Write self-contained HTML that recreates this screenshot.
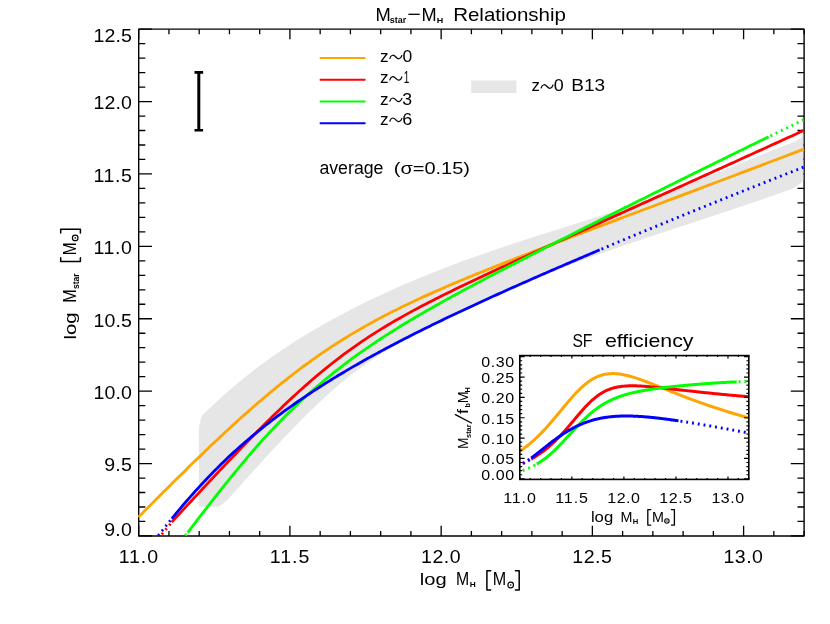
<!DOCTYPE html><html><head><meta charset="utf-8"><title>Mstar-MH Relationship</title>
<style>html,body{margin:0;padding:0;background:#fff;}svg{display:block;opacity:0.999;will-change:transform;}text{font-family:"Liberation Sans",sans-serif;fill:#000;}</style></head><body>
<svg width="830" height="624" viewBox="0 0 830 624">
<rect width="830" height="624" fill="#fff"/>
<defs><clipPath id="c1"><rect x="137.7" y="29.1" width="667.2" height="507.1"/></clipPath>
<clipPath id="c2"><rect x="519.8" y="355.6" width="229.0" height="123.8"/></clipPath></defs>
<g stroke="#000" stroke-width="1.4" fill="none">
<rect x="138.70" y="29.15" width="665.40" height="506.80" stroke-linejoin="round"/>
<path d="M138.70 535.95v-10.1 M138.70 29.15v10.1 M168.94 535.95v-5.0 M168.94 29.15v5.0 M199.19 535.95v-5.0 M199.19 29.15v5.0 M229.44 535.95v-5.0 M229.44 29.15v5.0 M259.68 535.95v-5.0 M259.68 29.15v5.0 M289.92 535.95v-10.1 M289.92 29.15v10.1 M320.17 535.95v-5.0 M320.17 29.15v5.0 M350.41 535.95v-5.0 M350.41 29.15v5.0 M380.66 535.95v-5.0 M380.66 29.15v5.0 M410.91 535.95v-5.0 M410.91 29.15v5.0 M441.15 535.95v-10.1 M441.15 29.15v10.1 M471.39 535.95v-5.0 M471.39 29.15v5.0 M501.64 535.95v-5.0 M501.64 29.15v5.0 M531.89 535.95v-5.0 M531.89 29.15v5.0 M562.13 535.95v-5.0 M562.13 29.15v5.0 M592.38 535.95v-10.1 M592.38 29.15v10.1 M622.62 535.95v-5.0 M622.62 29.15v5.0 M652.86 535.95v-5.0 M652.86 29.15v5.0 M683.11 535.95v-5.0 M683.11 29.15v5.0 M713.36 535.95v-5.0 M713.36 29.15v5.0 M743.60 535.95v-10.1 M743.60 29.15v10.1 M773.84 535.95v-5.0 M773.84 29.15v5.0 M804.09 535.95v-5.0 M804.09 29.15v5.0 M138.70 535.95h13.3 M804.10 535.95h-13.3 M138.70 521.47h6.6 M804.10 521.47h-6.6 M138.70 506.99h6.6 M804.10 506.99h-6.6 M138.70 492.51h6.6 M804.10 492.51h-6.6 M138.70 478.03h6.6 M804.10 478.03h-6.6 M138.70 463.55h13.3 M804.10 463.55h-13.3 M138.70 449.07h6.6 M804.10 449.07h-6.6 M138.70 434.59h6.6 M804.10 434.59h-6.6 M138.70 420.11h6.6 M804.10 420.11h-6.6 M138.70 405.63h6.6 M804.10 405.63h-6.6 M138.70 391.15h13.3 M804.10 391.15h-13.3 M138.70 376.67h6.6 M804.10 376.67h-6.6 M138.70 362.19h6.6 M804.10 362.19h-6.6 M138.70 347.71h6.6 M804.10 347.71h-6.6 M138.70 333.23h6.6 M804.10 333.23h-6.6 M138.70 318.75h13.3 M804.10 318.75h-13.3 M138.70 304.27h6.6 M804.10 304.27h-6.6 M138.70 289.79h6.6 M804.10 289.79h-6.6 M138.70 275.31h6.6 M804.10 275.31h-6.6 M138.70 260.83h6.6 M804.10 260.83h-6.6 M138.70 246.35h13.3 M804.10 246.35h-13.3 M138.70 231.87h6.6 M804.10 231.87h-6.6 M138.70 217.39h6.6 M804.10 217.39h-6.6 M138.70 202.91h6.6 M804.10 202.91h-6.6 M138.70 188.43h6.6 M804.10 188.43h-6.6 M138.70 173.95h13.3 M804.10 173.95h-13.3 M138.70 159.47h6.6 M804.10 159.47h-6.6 M138.70 144.99h6.6 M804.10 144.99h-6.6 M138.70 130.51h6.6 M804.10 130.51h-6.6 M138.70 116.03h6.6 M804.10 116.03h-6.6 M138.70 101.55h13.3 M804.10 101.55h-13.3 M138.70 87.07h6.6 M804.10 87.07h-6.6 M138.70 72.59h6.6 M804.10 72.59h-6.6 M138.70 58.11h6.6 M804.10 58.11h-6.6 M138.70 43.63h6.6 M804.10 43.63h-6.6 M138.70 29.15h13.3 M804.10 29.15h-13.3" stroke-width="1.3"/>
</g>
<polygon points="198.9,506.8 198.9,430.0 199.6,423.5 201.2,417.5 203.2,414.2 205.0,412.7 210.0,407.9 215.0,403.2 220.0,398.6 225.0,394.1 230.0,389.7 235.0,385.4 240.0,381.3 245.0,377.2 250.0,373.2 255.0,369.3 260.0,365.6 265.0,361.9 270.0,358.3 275.0,354.8 280.0,351.3 285.0,348.0 290.0,344.7 295.0,341.5 300.0,338.3 305.0,335.3 310.0,332.3 315.0,329.3 320.0,326.4 325.0,323.6 330.0,320.8 335.0,318.1 340.0,315.4 345.0,312.7 350.0,310.1 355.0,307.6 360.0,305.1 365.0,302.6 370.0,300.1 375.0,297.7 380.0,295.4 385.0,293.1 390.0,290.8 395.0,288.5 400.0,286.3 405.0,284.1 410.0,282.0 415.0,279.9 420.0,277.8 425.0,275.7 430.0,273.7 435.0,271.7 440.0,269.7 445.0,267.8 450.0,265.9 455.0,264.0 460.0,262.1 465.0,260.3 470.0,258.5 475.0,256.7 480.0,254.9 485.0,253.2 490.0,251.4 495.0,249.7 500.0,248.0 505.0,246.4 510.0,244.7 515.0,243.1 520.0,241.4 525.0,239.8 530.0,238.2 535.0,236.6 540.0,235.0 545.0,233.4 550.0,231.8 555.0,230.2 560.0,228.7 565.0,227.1 570.0,225.5 575.0,223.9 580.0,222.3 585.0,220.8 590.0,219.2 595.0,217.6 600.0,215.9 605.0,214.3 610.0,212.7 615.0,211.0 620.0,209.4 625.0,207.7 630.0,206.0 635.0,204.3 640.0,202.5 645.0,200.8 650.0,199.0 655.0,197.2 660.0,195.3 665.0,193.5 670.0,191.6 675.0,189.7 680.0,187.7 685.0,185.8 690.0,183.8 695.0,181.8 700.0,179.8 705.0,177.8 710.0,175.8 715.0,173.8 720.0,171.7 725.0,169.7 730.0,167.6 735.0,165.6 740.0,163.5 745.0,161.5 750.0,159.4 755.0,157.4 760.0,155.3 765.0,153.3 770.0,151.3 775.0,149.3 780.0,147.3 785.0,145.4 790.0,143.4 795.0,141.5 800.5,138.0 803.3,133.5 803.3,180.3 800.8,183.2 792.5,188.7 787.5,190.5 782.5,192.3 777.5,194.1 772.5,195.8 767.5,197.6 762.5,199.3 757.5,201.0 752.5,202.7 747.5,204.4 742.5,206.1 737.5,207.8 732.5,209.5 727.5,211.2 722.5,212.8 717.5,214.5 712.5,216.1 707.5,217.8 702.5,219.4 697.5,221.1 692.5,222.7 687.5,224.3 682.5,226.0 677.5,227.6 672.5,229.3 667.5,230.9 662.5,232.6 657.5,234.2 652.5,235.9 647.5,237.6 642.5,239.2 637.5,240.9 632.5,242.6 627.5,244.3 622.5,246.0 617.5,247.8 612.5,249.5 607.5,251.2 602.5,253.0 597.5,254.8 592.5,256.6 587.5,258.4 582.5,260.2 577.5,262.1 572.5,264.0 567.5,265.8 562.5,267.8 557.5,269.7 552.5,271.6 547.5,273.6 542.5,275.6 537.5,277.6 532.5,279.7 527.5,281.8 522.5,283.9 517.5,286.0 512.5,288.2 507.5,290.3 502.5,292.5 497.5,294.8 492.5,297.0 487.5,299.3 482.5,301.6 477.5,303.9 472.5,306.3 467.5,308.7 462.5,311.1 457.5,313.5 452.5,315.9 447.5,318.4 442.5,320.9 437.5,323.4 432.5,325.9 427.5,328.5 422.5,331.0 417.5,333.6 412.5,336.3 407.5,338.9 402.5,341.6 397.5,344.3 392.5,347.2 387.5,350.1 382.5,353.1 377.5,356.2 372.5,359.5 367.5,362.8 362.5,366.4 357.5,370.0 352.5,373.8 347.5,377.7 342.5,381.8 337.5,386.0 332.5,390.4 327.5,394.8 322.5,399.4 317.5,404.1 312.5,408.9 307.5,413.8 302.5,418.8 297.5,423.8 292.5,429.0 287.5,434.2 282.5,439.4 277.5,444.8 272.5,450.1 267.5,455.6 262.5,461.0 257.5,466.5 252.5,472.0 247.5,477.6 242.5,483.1 237.5,488.7 232.5,494.2 227.5,499.8 223.0,503.8 218.2,506.8" fill="#e6e6e6"/>
<g clip-path="url(#c1)" fill="none" stroke-width="2.8">
<path d="M138.50 517.13 L141.84 513.74 L145.19 510.36 L148.53 506.99 L151.88 503.62 L155.22 500.26 L158.57 496.91 L161.91 493.56 L165.25 490.23 L168.60 486.90 L171.94 483.58 L175.29 480.27 L178.63 476.97 L181.97 473.67 L185.32 470.39 L188.66 467.12 L192.01 463.87 L195.35 460.62 L198.70 457.39 L202.04 454.17 L205.38 450.96 L208.73 447.77 L212.07 444.60 L215.42 441.44 L218.76 438.30 L222.11 435.17 L225.45 432.06 L228.79 428.97 L232.14 425.90 L235.48 422.85 L238.83 419.83 L242.17 416.82 L245.52 413.84 L248.86 410.88 L252.20 407.94 L255.55 405.03 L258.89 402.14 L262.24 399.28 L265.58 396.45 L268.92 393.64 L272.27 390.86 L275.61 388.11 L278.96 385.39 L282.30 382.70 L285.65 380.04 L288.99 377.41 L292.33 374.82 L295.68 372.25 L299.02 369.72 L302.37 367.22 L305.71 364.75 L309.06 362.32 L312.40 359.92 L315.74 357.55 L319.09 355.21 L322.43 352.91 L325.78 350.64 L329.12 348.41 L332.46 346.20 L335.81 344.03 L339.15 341.89 L342.50 339.79 L345.84 337.71 L349.19 335.66 L352.53 333.65 L355.87 331.66 L359.22 329.71 L362.56 327.78 L365.91 325.88 L369.25 324.01 L372.60 322.16 L375.94 320.34 L379.28 318.54 L382.63 316.77 L385.97 315.03 L389.32 313.30 L392.66 311.60 L396.01 309.92 L399.35 308.26 L402.69 306.61 L406.04 304.99 L409.38 303.39 L412.73 301.80 L416.07 300.23 L419.41 298.68 L422.76 297.14 L426.10 295.62 L429.45 294.11 L432.79 292.61 L436.14 291.13 L439.48 289.66 L442.82 288.20 L446.17 286.75 L449.51 285.32 L452.86 283.89 L456.20 282.47 L459.55 281.07 L462.89 279.67 L466.23 278.28 L469.58 276.89 L472.92 275.52 L476.27 274.15 L479.61 272.79 L482.95 271.43 L486.30 270.08 L489.64 268.74 L492.99 267.40 L496.33 266.07 L499.68 264.74 L503.02 263.41 L506.36 262.09 L509.71 260.78 L513.05 259.46 L516.40 258.16 L519.74 256.85 L523.09 255.55 L526.43 254.25 L529.77 252.95 L533.12 251.66 L536.46 250.37 L539.81 249.08 L543.15 247.79 L546.49 246.51 L549.84 245.23 L553.18 243.94 L556.53 242.67 L559.87 241.39 L563.22 240.11 L566.56 238.84 L569.90 237.56 L573.25 236.29 L576.59 235.02 L579.94 233.75 L583.28 232.48 L586.63 231.21 L589.97 229.95 L593.31 228.68 L596.66 227.42 L600.00 226.15 L603.35 224.89 L606.69 223.62 L610.04 222.36 L613.38 221.10 L616.72 219.83 L620.07 218.57 L623.41 217.31 L626.76 216.05 L630.10 214.79 L633.44 213.53 L636.79 212.27 L640.13 211.01 L643.48 209.75 L646.82 208.49 L650.17 207.23 L653.51 205.97 L656.85 204.71 L660.20 203.45 L663.54 202.19 L666.89 200.93 L670.23 199.67 L673.58 198.41 L676.92 197.15 L680.26 195.89 L683.61 194.63 L686.95 193.37 L690.30 192.11 L693.64 190.85 L696.98 189.59 L700.33 188.32 L703.67 187.06 L707.02 185.80 L710.36 184.54 L713.71 183.28 L717.05 182.02 L720.39 180.75 L723.74 179.49 L727.08 178.23 L730.43 176.97 L733.77 175.70 L737.12 174.44 L740.46 173.18 L743.80 171.91 L747.15 170.65 L750.49 169.38 L753.84 168.12 L757.18 166.85 L760.53 165.59 L763.87 164.32 L767.21 163.05 L770.56 161.79 L773.90 160.52 L777.25 159.25 L780.59 157.98 L783.93 156.72 L787.28 155.45 L790.62 154.18 L793.97 152.91 L797.31 151.64 L800.66 150.37 L804.00 149.10" stroke="#ffa500"/>
<path d="M171.77 522.11 L174.95 518.66 L178.13 515.21 L181.31 511.77 L184.48 508.33 L187.66 504.89 L190.84 501.46 L194.01 498.04 L197.19 494.62 L200.37 491.20 L203.55 487.80 L206.72 484.40 L209.90 481.00 L213.08 477.62 L216.25 474.24 L219.43 470.87 L222.61 467.51 L225.78 464.16 L228.96 460.82 L232.14 457.49 L235.32 454.17 L238.49 450.86 L241.67 447.57 L244.85 444.29 L248.02 441.02 L251.20 437.78 L254.38 434.54 L257.55 431.33 L260.73 428.13 L263.91 424.95 L267.09 421.80 L270.26 418.66 L273.44 415.54 L276.62 412.45 L279.79 409.39 L282.97 406.35 L286.15 403.33 L289.32 400.35 L292.50 397.39 L295.68 394.46 L298.86 391.57 L302.03 388.70 L305.21 385.87 L308.39 383.08 L311.56 380.31 L314.74 377.59 L317.92 374.89 L321.09 372.24 L324.27 369.62 L327.45 367.04 L330.63 364.50 L333.80 362.00 L336.98 359.53 L340.16 357.11 L343.33 354.72 L346.51 352.37 L349.69 350.06 L352.86 347.78 L356.04 345.54 L359.22 343.34 L362.40 341.18 L365.57 339.05 L368.75 336.95 L371.93 334.89 L375.10 332.86 L378.28 330.86 L381.46 328.89 L384.63 326.95 L387.81 325.04 L390.99 323.16 L394.17 321.30 L397.34 319.47 L400.52 317.66 L403.70 315.87 L406.87 314.11 L410.05 312.37 L413.23 310.64 L416.40 308.94 L419.58 307.25 L422.76 305.58 L425.94 303.92 L429.11 302.28 L432.29 300.66 L435.47 299.05 L438.64 297.45 L441.82 295.86 L445.00 294.28 L448.17 292.71 L451.35 291.15 L454.53 289.61 L457.71 288.07 L460.88 286.53 L464.06 285.01 L467.24 283.49 L470.41 281.98 L473.59 280.47 L476.77 278.97 L479.94 277.48 L483.12 275.99 L486.30 274.50 L489.48 273.02 L492.65 271.55 L495.83 270.07 L499.01 268.60 L502.18 267.14 L505.36 265.67 L508.54 264.21 L511.72 262.75 L514.89 261.30 L518.07 259.84 L521.25 258.39 L524.42 256.94 L527.60 255.49 L530.78 254.05 L533.95 252.60 L537.13 251.16 L540.31 249.72 L543.49 248.27 L546.66 246.83 L549.84 245.39 L553.02 243.95 L556.19 242.52 L559.37 241.08 L562.55 239.64 L565.72 238.21 L568.90 236.77 L572.08 235.34 L575.26 233.90 L578.43 232.47 L581.61 231.04 L584.79 229.60 L587.96 228.17 L591.14 226.74 L594.32 225.30 L597.49 223.87 L600.67 222.44 L603.85 221.01 L607.03 219.57 L610.20 218.14 L613.38 216.71 L616.56 215.28 L619.73 213.85 L622.91 212.41 L626.09 210.98 L629.26 209.55 L632.44 208.12 L635.62 206.68 L638.80 205.25 L641.97 203.82 L645.15 202.39 L648.33 200.95 L651.50 199.52 L654.68 198.09 L657.86 196.65 L661.03 195.22 L664.21 193.78 L667.39 192.35 L670.57 190.92 L673.74 189.48 L676.92 188.05 L680.10 186.61 L683.27 185.18 L686.45 183.74 L689.63 182.30 L692.80 180.87 L695.98 179.43 L699.16 177.99 L702.34 176.56 L705.51 175.12 L708.69 173.68 L711.87 172.24 L715.04 170.80 L718.22 169.36 L721.40 167.92 L724.57 166.48 L727.75 165.04 L730.93 163.60 L734.11 162.16 L737.28 160.72 L740.46 159.28 L743.64 157.84 L746.81 156.39 L749.99 154.95 L753.17 153.51 L756.34 152.06 L759.52 150.62 L762.70 149.17 L765.88 147.73 L769.05 146.28 L772.23 144.84 L775.41 143.39 L778.58 141.94 L781.76 140.50 L784.94 139.05 L788.11 137.60 L791.29 136.15 L794.47 134.70 L797.65 133.25 L800.82 131.80 L804.00 130.35" stroke="#ff0000"/>
<path d="M171.77 522.11L157.20 540.00" stroke="#ff0000" stroke-dasharray="1.9 3.94" stroke-dashoffset="-2.2"/>
<path d="M187.81 532.55 L190.73 528.67 L193.64 524.80 L196.56 520.96 L199.48 517.13 L202.40 513.33 L205.32 509.54 L208.24 505.78 L211.16 502.04 L214.07 498.32 L216.99 494.62 L219.91 490.95 L222.83 487.31 L225.75 483.69 L228.67 480.10 L231.59 476.49 L234.50 472.89 L237.42 469.33 L240.34 465.79 L243.26 462.29 L246.18 458.82 L249.10 455.38 L252.02 451.97 L254.94 448.60 L257.85 445.26 L260.77 441.97 L263.69 438.76 L266.61 435.58 L269.53 432.44 L272.45 429.34 L275.37 426.27 L278.28 423.24 L281.20 420.24 L284.12 417.28 L287.04 414.36 L289.96 411.48 L292.88 408.64 L295.80 405.83 L298.71 403.06 L301.63 400.32 L304.55 397.63 L307.47 394.97 L310.39 392.35 L313.31 389.76 L316.23 387.21 L319.14 384.70 L322.06 382.22 L324.98 379.77 L327.90 377.36 L330.82 374.98 L333.74 372.64 L336.66 370.32 L339.57 368.04 L342.49 365.79 L345.41 363.57 L348.33 361.37 L351.25 359.21 L354.17 357.07 L357.09 354.96 L360.00 352.88 L362.92 350.82 L365.84 348.79 L368.76 346.78 L371.68 344.80 L374.60 342.83 L377.52 340.89 L380.43 338.97 L383.35 337.07 L386.27 335.19 L389.19 333.33 L392.11 331.48 L395.03 329.65 L397.95 327.84 L400.86 326.05 L403.78 324.27 L406.70 322.51 L409.62 320.75 L412.54 319.02 L415.46 317.29 L418.38 315.58 L421.29 313.88 L424.21 312.19 L427.13 310.52 L430.05 308.85 L432.97 307.19 L435.89 305.54 L438.81 303.91 L441.73 302.28 L444.64 300.65 L447.56 299.04 L450.48 297.43 L453.40 295.83 L456.32 294.24 L459.24 292.66 L462.16 291.08 L465.07 289.50 L467.99 287.94 L470.91 286.37 L473.83 284.82 L476.75 283.26 L479.67 281.71 L482.59 280.17 L485.50 278.63 L488.42 277.10 L491.34 275.56 L494.26 274.04 L497.18 272.51 L500.10 270.99 L503.02 269.47 L505.93 267.96 L508.85 266.45 L511.77 264.94 L514.69 263.43 L517.61 261.93 L520.53 260.43 L523.45 258.93 L526.36 257.43 L529.28 255.93 L532.20 254.44 L535.12 252.95 L538.04 251.46 L540.96 249.97 L543.88 248.49 L546.79 247.00 L549.71 245.52 L552.63 244.04 L555.55 242.56 L558.47 241.08 L561.39 239.60 L564.31 238.13 L567.22 236.65 L570.14 235.18 L573.06 233.71 L575.98 232.23 L578.90 230.76 L581.82 229.29 L584.74 227.83 L587.65 226.36 L590.57 224.89 L593.49 223.43 L596.41 221.96 L599.33 220.50 L602.25 219.04 L605.17 217.57 L608.08 216.11 L611.00 214.65 L613.92 213.19 L616.84 211.73 L619.76 210.28 L622.68 208.82 L625.60 207.36 L628.52 205.91 L631.43 204.45 L634.35 203.00 L637.27 201.54 L640.19 200.09 L643.11 198.64 L646.03 197.18 L648.95 195.73 L651.86 194.28 L654.78 192.83 L657.70 191.38 L660.62 189.93 L663.54 188.49 L666.46 187.04 L669.38 185.59 L672.29 184.15 L675.21 182.70 L678.13 181.26 L681.05 179.81 L683.97 178.37 L686.89 176.93 L689.81 175.48 L692.72 174.04 L695.64 172.60 L698.56 171.16 L701.48 169.72 L704.40 168.28 L707.32 166.84 L710.24 165.41 L713.15 163.97 L716.07 162.53 L718.99 161.10 L721.91 159.66 L724.83 158.23 L727.75 156.80 L730.67 155.36 L733.58 153.93 L736.50 152.50 L739.42 151.07 L742.34 149.64 L745.26 148.21 L748.18 146.78 L751.10 145.35 L754.01 143.93 L756.93 142.50 L759.85 141.08 L762.77 139.65 L765.69 138.23 L768.61 136.80" stroke="#00ff00"/>
<path d="M187.81 532.55L181.50 540.00" stroke="#00ff00" stroke-dasharray="1.9 3.94" stroke-dashoffset="-2.2"/>
<path d="M768.61 136.80 L769.21 136.51 L769.81 136.22 L770.41 135.93 L771.01 135.63 L771.61 135.34 L772.21 135.05 L772.81 134.76 L773.41 134.47 L774.01 134.17 L774.61 133.88 L775.21 133.59 L775.81 133.30 L776.41 133.00 L777.01 132.71 L777.61 132.42 L778.21 132.13 L778.81 131.84 L779.41 131.55 L780.01 131.25 L780.60 130.96 L781.20 130.67 L781.80 130.38 L782.40 130.09 L783.00 129.80 L783.60 129.50 L784.20 129.21 L784.80 128.92 L785.40 128.63 L786.00 128.34 L786.60 128.05 L787.20 127.75 L787.80 127.46 L788.40 127.17 L789.00 126.88 L789.60 126.59 L790.20 126.30 L790.80 126.01 L791.40 125.72 L792.00 125.42 L792.60 125.13 L793.20 124.84 L793.80 124.55 L794.40 124.26 L795.00 123.97 L795.60 123.68 L796.20 123.39 L796.80 123.10 L797.40 122.81 L798.00 122.52 L798.60 122.22 L799.20 121.93 L799.80 121.64 L800.40 121.34 L801.00 121.05 L801.60 120.75 L802.20 120.45 L802.80 120.15 L803.40 119.86 L804.00 119.56" stroke="#00ff00" stroke-dasharray="1.9 3.94" stroke-dashoffset="-2"/>
<path d="M171.77 518.72 L173.93 516.08 L176.08 513.46 L178.23 510.87 L180.38 508.31 L182.53 505.77 L184.68 503.25 L186.83 500.77 L188.98 498.30 L191.13 495.86 L193.28 493.45 L195.43 491.05 L197.58 488.69 L199.73 486.34 L201.88 484.02 L204.03 481.72 L206.18 479.44 L208.33 477.19 L210.48 474.95 L212.63 472.74 L214.78 470.55 L216.93 468.39 L219.08 466.24 L221.23 464.11 L223.38 462.01 L225.53 459.93 L227.68 457.86 L229.83 455.83 L231.98 453.86 L234.13 451.90 L236.28 449.97 L238.43 448.05 L240.58 446.15 L242.73 444.27 L244.88 442.41 L247.03 440.56 L249.18 438.74 L251.33 436.93 L253.48 435.14 L255.63 433.36 L257.78 431.60 L259.93 429.86 L262.08 428.13 L264.23 426.42 L266.38 424.73 L268.53 423.05 L270.68 421.38 L272.83 419.73 L274.98 418.10 L277.13 416.48 L279.28 414.87 L281.43 413.28 L283.58 411.70 L285.73 410.14 L287.88 408.58 L290.04 407.04 L292.19 405.52 L294.34 404.00 L296.49 402.50 L298.64 401.01 L300.79 399.53 L302.94 398.07 L305.09 396.61 L307.24 395.17 L309.39 393.74 L311.54 392.32 L313.69 390.91 L315.84 389.51 L317.99 388.12 L320.14 386.74 L322.29 385.37 L324.44 384.01 L326.59 382.66 L328.74 381.32 L330.89 379.98 L333.04 378.66 L335.19 377.35 L337.34 376.04 L339.49 374.75 L341.64 373.46 L343.79 372.18 L345.94 370.90 L348.09 369.64 L350.24 368.38 L352.39 367.13 L354.54 365.89 L356.69 364.66 L358.84 363.43 L360.99 362.21 L363.14 361.00 L365.29 359.79 L367.44 358.59 L369.59 357.40 L371.74 356.21 L373.89 355.03 L376.04 353.86 L378.19 352.69 L380.34 351.52 L382.49 350.37 L384.64 349.21 L386.79 348.07 L388.94 346.93 L391.09 345.79 L393.24 344.66 L395.39 343.54 L397.54 342.42 L399.69 341.30 L401.84 340.19 L403.99 339.08 L406.14 337.98 L408.30 336.89 L410.45 335.79 L412.60 334.71 L414.75 333.62 L416.90 332.54 L419.05 331.47 L421.20 330.39 L423.35 329.33 L425.50 328.26 L427.65 327.20 L429.80 326.14 L431.95 325.09 L434.10 324.04 L436.25 323.00 L438.40 321.95 L440.55 320.91 L442.70 319.88 L444.85 318.84 L447.00 317.81 L449.15 316.79 L451.30 315.76 L453.45 314.74 L455.60 313.72 L457.75 312.71 L459.90 311.70 L462.05 310.68 L464.20 309.68 L466.35 308.67 L468.50 307.67 L470.65 306.67 L472.80 305.67 L474.95 304.68 L477.10 303.69 L479.25 302.70 L481.40 301.71 L483.55 300.72 L485.70 299.74 L487.85 298.76 L490.00 297.78 L492.15 296.80 L494.30 295.82 L496.45 294.85 L498.60 293.88 L500.75 292.91 L502.90 291.94 L505.05 290.98 L507.20 290.01 L509.35 289.05 L511.50 288.09 L513.65 287.13 L515.80 286.17 L517.95 285.22 L520.10 284.26 L522.25 283.31 L524.40 282.36 L526.56 281.41 L528.71 280.46 L530.86 279.52 L533.01 278.57 L535.16 277.63 L537.31 276.68 L539.46 275.74 L541.61 274.80 L543.76 273.87 L545.91 272.93 L548.06 271.99 L550.21 271.06 L552.36 270.13 L554.51 269.20 L556.66 268.27 L558.81 267.34 L560.96 266.41 L563.11 265.48 L565.26 264.55 L567.41 263.63 L569.56 262.71 L571.71 261.78 L573.86 260.86 L576.01 259.94 L578.16 259.02 L580.31 258.10 L582.46 257.19 L584.61 256.27 L586.76 255.36 L588.91 254.44 L591.06 253.53 L593.21 252.62 L595.36 251.71 L597.51 250.79 L599.66 249.89" stroke="#0000ff"/>
<path d="M171.77 518.72L155.80 538.60" stroke="#0000ff" stroke-dasharray="1.9 3.94" stroke-dashoffset="-2.2"/>
<path d="M599.66 249.89 L603.12 248.42 L606.59 246.96 L610.05 245.50 L613.51 244.05 L616.98 242.59 L620.44 241.14 L623.90 239.69 L627.37 238.25 L630.83 236.80 L634.29 235.36 L637.76 233.92 L641.22 232.48 L644.69 231.04 L648.15 229.61 L651.61 228.17 L655.08 226.74 L658.54 225.31 L662.00 223.89 L665.47 222.46 L668.93 221.04 L672.39 219.62 L675.86 218.20 L679.32 216.78 L682.78 215.37 L686.25 213.95 L689.71 212.54 L693.17 211.13 L696.64 209.72 L700.10 208.32 L703.56 206.91 L707.03 205.51 L710.49 204.11 L713.95 202.71 L717.42 201.31 L720.88 199.92 L724.34 198.53 L727.81 197.14 L731.27 195.75 L734.73 194.36 L738.20 192.97 L741.66 191.59 L745.12 190.21 L748.59 188.83 L752.05 187.45 L755.51 186.07 L758.98 184.70 L762.44 183.32 L765.90 181.95 L769.37 180.58 L772.83 179.22 L776.29 177.85 L779.76 176.49 L783.22 175.13 L786.68 173.77 L790.15 172.41 L793.61 171.06 L797.07 169.70 L800.54 168.35 L804.00 166.97" stroke="#0000ff" stroke-dasharray="1.9 3.94" stroke-dashoffset="-2"/>
</g>
<path d="M198.8 72.4V130.2" stroke="#000" stroke-width="3" fill="none"/>
<path d="M194.5 72.4h8.6M194.5 130.2h8.6" stroke="#000" stroke-width="2.6" fill="none"/>
<path d="M319.7 58.0H365.5" stroke="#ffa500" stroke-width="2" fill="none"/>
<path d="M319.7 79.8H365.5" stroke="#ff0000" stroke-width="2" fill="none"/>
<path d="M319.7 101.5H365.5" stroke="#00ff00" stroke-width="2" fill="none"/>
<path d="M319.7 123.2H365.5" stroke="#0000ff" stroke-width="2" fill="none"/>
<rect x="471.2" y="80.5" width="45.3" height="12.5" fill="#e6e6e6"/>
<text transform="translate(93.43 109.45) scale(1.030 1)" font-size="19.0" letter-spacing="0.13">12.0</text>
<text transform="translate(93.43 181.85) scale(1.030 1)" font-size="19.0" letter-spacing="0.60">11.5</text>
<text transform="translate(93.43 254.25) scale(1.030 1)" font-size="19.0" letter-spacing="0.60">11.0</text>
<text transform="translate(93.43 326.65) scale(1.030 1)" font-size="19.0" letter-spacing="0.13">10.5</text>
<text transform="translate(93.43 399.05) scale(1.030 1)" font-size="19.0" letter-spacing="0.13">10.0</text>
<text transform="translate(104.22 471.45) scale(1.030 1)" font-size="19.0" letter-spacing="0.22">9.5</text>
<text transform="translate(93.43 42.00) scale(1.030 1)" font-size="19.0" letter-spacing="0.13">12.5</text>
<text transform="translate(104.22 536.40) scale(1.030 1)" font-size="19.0" letter-spacing="0.22">9.0</text>
<text transform="translate(118.63 562.60) scale(1.030 1)" font-size="19.0" letter-spacing="0.92">11.0</text>
<text transform="translate(269.86 562.60) scale(1.030 1)" font-size="19.0" letter-spacing="0.92">11.5</text>
<text transform="translate(421.08 562.60) scale(1.030 1)" font-size="19.0" letter-spacing="0.45">12.0</text>
<text transform="translate(572.31 562.60) scale(1.030 1)" font-size="19.0" letter-spacing="0.45">12.5</text>
<text transform="translate(723.53 562.60) scale(1.030 1)" font-size="19.0" letter-spacing="0.45">13.0</text>
<text x="380.12" y="61.90" font-size="16.6" textLength="8.54" lengthAdjust="spacingAndGlyphs">z</text>
<path d="M389.80 58.44 C391.26 54.12 393.88 54.66 395.85 57.00 S400.44 59.88 401.90 55.56" fill="none" stroke="#000" stroke-width="1.2" stroke-linecap="round"/>
<text x="402.40" y="61.90" font-size="17.4" textLength="9.72" lengthAdjust="spacingAndGlyphs">0</text>
<text x="380.12" y="83.30" font-size="16.6" textLength="8.54" lengthAdjust="spacingAndGlyphs">z</text>
<path d="M389.80 79.84 C391.26 75.52 393.88 76.06 395.85 78.40 S400.44 81.28 401.90 76.96" fill="none" stroke="#000" stroke-width="1.2" stroke-linecap="round"/>
<text x="403.75" y="83.30" font-size="17.4" textLength="5.56" lengthAdjust="spacingAndGlyphs">1</text>
<text x="380.12" y="104.70" font-size="16.6" textLength="8.54" lengthAdjust="spacingAndGlyphs">z</text>
<path d="M389.80 101.24 C391.26 96.92 393.88 97.46 395.85 99.80 S400.44 102.68 401.90 98.36" fill="none" stroke="#000" stroke-width="1.2" stroke-linecap="round"/>
<text x="402.39" y="104.70" font-size="17.4" textLength="9.82" lengthAdjust="spacingAndGlyphs">3</text>
<text x="380.12" y="124.70" font-size="16.6" textLength="8.54" lengthAdjust="spacingAndGlyphs">z</text>
<path d="M389.80 121.24 C391.26 116.92 393.88 117.46 395.85 119.80 S400.44 122.68 401.90 118.36" fill="none" stroke="#000" stroke-width="1.2" stroke-linecap="round"/>
<text x="402.20" y="124.70" font-size="17.4" textLength="10.04" lengthAdjust="spacingAndGlyphs">6</text>
<text x="531.63" y="91.40" font-size="16.6" textLength="8.41" lengthAdjust="spacingAndGlyphs">z</text>
<path d="M541.10 87.94 C542.53 83.62 545.12 84.16 547.05 86.50 S551.57 89.38 553.00 85.06" fill="none" stroke="#000" stroke-width="1.2" stroke-linecap="round"/>
<text x="553.78" y="91.40" font-size="17.4" textLength="9.95" lengthAdjust="spacingAndGlyphs">0</text>
<text x="571.28" y="91.40" font-size="17.4" textLength="33.76" lengthAdjust="spacingAndGlyphs">B13</text>
<text x="319.40" y="174.20" font-size="17.5" textLength="64.08" lengthAdjust="spacingAndGlyphs">average</text>
<text x="393.80" y="174.20" font-size="17.0" textLength="76.17" lengthAdjust="spacingAndGlyphs">(σ=0.15)</text>
<text x="375.43" y="20.60" font-size="18.5" textLength="15.29" lengthAdjust="spacingAndGlyphs">M</text>
<text x="389.79" y="23.20" font-size="8.2" textLength="16.44" lengthAdjust="spacingAndGlyphs" font-weight="bold">star</text>
<path d="M408.4 14.3H419.7" stroke="#000" stroke-width="1.3"/>
<text x="421.54" y="20.60" font-size="18.5" textLength="15.17" lengthAdjust="spacingAndGlyphs">M</text>
<text x="436.72" y="22.60" font-size="8.0" textLength="6.49" lengthAdjust="spacingAndGlyphs" font-weight="bold">H</text>
<text x="453.16" y="20.60" font-size="18.5" textLength="112.83" lengthAdjust="spacingAndGlyphs">Relationship</text>
<text x="419.79" y="585.40" font-size="17.2" textLength="26.80" lengthAdjust="spacingAndGlyphs">log</text>
<text x="455.93" y="585.40" font-size="17.6" textLength="13.18" lengthAdjust="spacingAndGlyphs">M</text>
<text x="469.86" y="587.40" font-size="8.0" textLength="6.00" lengthAdjust="spacingAndGlyphs" font-weight="bold">H</text>
<path d="M490.70 570.70H486.90V590.10H490.70" fill="none" stroke="#000" stroke-width="1.50" stroke-linejoin="round" stroke-linecap="round"/>
<text x="492.71" y="585.40" font-size="17.6" textLength="13.43" lengthAdjust="spacingAndGlyphs">M</text>
<circle cx="510.7" cy="585.0" r="2.8" fill="none" stroke="#000" stroke-width="1.2"/><circle cx="510.7" cy="585.0" r="0.8" fill="#000"/>
<path d="M515.40 570.70H519.20V590.10H515.40" fill="none" stroke="#000" stroke-width="1.50" stroke-linejoin="round" stroke-linecap="round"/>
<text x="75.60" y="339.52" font-size="17.2" textLength="27.02" lengthAdjust="spacingAndGlyphs" transform="rotate(-90 75.60 339.52)">log</text>
<text x="75.60" y="302.80" font-size="17.6" textLength="13.55" lengthAdjust="spacingAndGlyphs" transform="rotate(-90 75.60 302.80)">M</text>
<text x="78.70" y="289.10" font-size="8.3" textLength="15.83" lengthAdjust="spacingAndGlyphs" transform="rotate(-90 78.70 289.10)" font-weight="bold">star</text>
<path d="M60.70 257.80V261.60H80.40V257.80" fill="none" stroke="#000" stroke-width="1.50" stroke-linejoin="round" stroke-linecap="round"/>
<text x="75.60" y="255.24" font-size="17.6" textLength="12.93" lengthAdjust="spacingAndGlyphs" transform="rotate(-90 75.60 255.24)">M</text>
<circle cx="75.2" cy="237.9" r="2.8" fill="none" stroke="#000" stroke-width="1.2"/><circle cx="75.2" cy="237.9" r="0.8" fill="#000"/>
<path d="M60.70 233.10V229.30H80.40V233.10" fill="none" stroke="#000" stroke-width="1.50" stroke-linejoin="round" stroke-linecap="round"/>
<g clip-path="url(#c2)" fill="none" stroke-width="3">
<path d="M519.80 451.29 L520.95 450.50 L522.10 449.69 L523.25 448.85 L524.40 448.00 L525.55 447.12 L526.70 446.22 L527.86 445.30 L529.01 444.36 L530.16 443.40 L531.31 442.42 L532.46 441.41 L533.61 440.38 L534.76 439.34 L535.91 438.26 L537.06 437.17 L538.21 436.06 L539.36 434.92 L540.51 433.76 L541.66 432.59 L542.82 431.39 L543.97 430.17 L545.12 428.94 L546.27 427.68 L547.42 426.41 L548.57 425.12 L549.72 423.81 L550.87 422.49 L552.02 421.16 L553.17 419.81 L554.32 418.45 L555.47 417.08 L556.62 415.71 L557.77 414.32 L558.93 412.94 L560.08 411.54 L561.23 410.15 L562.38 408.76 L563.53 407.36 L564.68 405.98 L565.83 404.60 L566.98 403.23 L568.13 401.86 L569.28 400.52 L570.43 399.18 L571.58 397.87 L572.73 396.57 L573.89 395.29 L575.04 394.04 L576.19 392.82 L577.34 391.62 L578.49 390.45 L579.64 389.31 L580.79 388.21 L581.94 387.14 L583.09 386.11 L584.24 385.11 L585.39 384.16 L586.54 383.24 L587.69 382.37 L588.85 381.53 L590.00 380.74 L591.15 379.99 L592.30 379.29 L593.45 378.63 L594.60 378.01 L595.75 377.43 L596.90 376.90 L598.05 376.41 L599.20 375.96 L600.35 375.55 L601.50 375.19 L602.65 374.86 L603.81 374.58 L604.96 374.33 L606.11 374.12 L607.26 373.95 L608.41 373.81 L609.56 373.70 L610.71 373.63 L611.86 373.59 L613.01 373.58 L614.16 373.60 L615.31 373.65 L616.46 373.73 L617.61 373.83 L618.76 373.96 L619.92 374.11 L621.07 374.28 L622.22 374.47 L623.37 374.68 L624.52 374.92 L625.67 375.17 L626.82 375.43 L627.97 375.71 L629.12 376.01 L630.27 376.32 L631.42 376.65 L632.57 376.99 L633.72 377.33 L634.88 377.69 L636.03 378.06 L637.18 378.44 L638.33 378.83 L639.48 379.23 L640.63 379.63 L641.78 380.04 L642.93 380.45 L644.08 380.88 L645.23 381.30 L646.38 381.73 L647.53 382.17 L648.68 382.61 L649.84 383.05 L650.99 383.50 L652.14 383.95 L653.29 384.40 L654.44 384.85 L655.59 385.31 L656.74 385.76 L657.89 386.22 L659.04 386.68 L660.19 387.14 L661.34 387.60 L662.49 388.06 L663.64 388.52 L664.79 388.98 L665.95 389.44 L667.10 389.90 L668.25 390.36 L669.40 390.82 L670.55 391.28 L671.70 391.73 L672.85 392.19 L674.00 392.65 L675.15 393.10 L676.30 393.55 L677.45 394.00 L678.60 394.45 L679.75 394.90 L680.91 395.35 L682.06 395.79 L683.21 396.23 L684.36 396.67 L685.51 397.11 L686.66 397.55 L687.81 397.99 L688.96 398.42 L690.11 398.85 L691.26 399.28 L692.41 399.71 L693.56 400.13 L694.71 400.55 L695.87 400.97 L697.02 401.39 L698.17 401.81 L699.32 402.22 L700.47 402.64 L701.62 403.05 L702.77 403.45 L703.92 403.86 L705.07 404.26 L706.22 404.66 L707.37 405.06 L708.52 405.46 L709.67 405.85 L710.83 406.24 L711.98 406.63 L713.13 407.02 L714.28 407.40 L715.43 407.79 L716.58 408.17 L717.73 408.54 L718.88 408.92 L720.03 409.29 L721.18 409.66 L722.33 410.03 L723.48 410.40 L724.63 410.76 L725.78 411.13 L726.94 411.49 L728.09 411.84 L729.24 412.20 L730.39 412.55 L731.54 412.90 L732.69 413.25 L733.84 413.60 L734.99 413.94 L736.14 414.28 L737.29 414.62 L738.44 414.96 L739.59 415.30 L740.74 415.63 L741.90 415.96 L743.05 416.29 L744.20 416.62 L745.35 416.94 L746.50 417.27 L747.65 417.59 L748.80 417.91" stroke="#ffa500"/>
<path d="M531.25 459.08 L532.34 458.46 L533.44 457.83 L534.53 457.17 L535.62 456.50 L536.72 455.81 L537.81 455.10 L538.90 454.37 L540.00 453.62 L541.09 452.85 L542.18 452.06 L543.28 451.24 L544.37 450.41 L545.46 449.55 L546.56 448.67 L547.65 447.77 L548.74 446.85 L549.83 445.90 L550.93 444.93 L552.02 443.94 L553.11 442.93 L554.21 441.89 L555.30 440.83 L556.39 439.75 L557.49 438.65 L558.58 437.53 L559.67 436.39 L560.77 435.23 L561.86 434.05 L562.95 432.85 L564.05 431.63 L565.14 430.40 L566.23 429.16 L567.33 427.90 L568.42 426.63 L569.51 425.35 L570.61 424.06 L571.70 422.77 L572.79 421.47 L573.89 420.17 L574.98 418.87 L576.07 417.57 L577.17 416.28 L578.26 414.99 L579.35 413.72 L580.44 412.45 L581.54 411.20 L582.63 409.97 L583.72 408.75 L584.82 407.56 L585.91 406.39 L587.00 405.25 L588.10 404.13 L589.19 403.04 L590.28 401.98 L591.38 400.96 L592.47 399.97 L593.56 399.02 L594.66 398.10 L595.75 397.22 L596.84 396.37 L597.94 395.57 L599.03 394.80 L600.12 394.07 L601.22 393.37 L602.31 392.72 L603.40 392.10 L604.50 391.52 L605.59 390.97 L606.68 390.46 L607.78 389.98 L608.87 389.53 L609.96 389.12 L611.05 388.74 L612.15 388.39 L613.24 388.06 L614.33 387.77 L615.43 387.50 L616.52 387.25 L617.61 387.03 L618.71 386.83 L619.80 386.65 L620.89 386.49 L621.99 386.35 L623.08 386.23 L624.17 386.13 L625.27 386.04 L626.36 385.97 L627.45 385.91 L628.55 385.87 L629.64 385.84 L630.73 385.82 L631.83 385.81 L632.92 385.81 L634.01 385.82 L635.11 385.84 L636.20 385.87 L637.29 385.90 L638.39 385.95 L639.48 386.00 L640.57 386.05 L641.66 386.12 L642.76 386.18 L643.85 386.25 L644.94 386.33 L646.04 386.41 L647.13 386.50 L648.22 386.59 L649.32 386.68 L650.41 386.77 L651.50 386.87 L652.60 386.97 L653.69 387.07 L654.78 387.18 L655.88 387.28 L656.97 387.39 L658.06 387.50 L659.16 387.62 L660.25 387.73 L661.34 387.84 L662.44 387.96 L663.53 388.08 L664.62 388.19 L665.72 388.31 L666.81 388.43 L667.90 388.55 L669.00 388.67 L670.09 388.79 L671.18 388.91 L672.27 389.04 L673.37 389.16 L674.46 389.28 L675.55 389.40 L676.65 389.52 L677.74 389.65 L678.83 389.77 L679.93 389.89 L681.02 390.01 L682.11 390.14 L683.21 390.26 L684.30 390.38 L685.39 390.50 L686.49 390.62 L687.58 390.74 L688.67 390.87 L689.77 390.99 L690.86 391.11 L691.95 391.23 L693.05 391.35 L694.14 391.47 L695.23 391.59 L696.33 391.70 L697.42 391.82 L698.51 391.94 L699.61 392.06 L700.70 392.17 L701.79 392.29 L702.88 392.41 L703.98 392.52 L705.07 392.64 L706.16 392.75 L707.26 392.86 L708.35 392.98 L709.44 393.09 L710.54 393.20 L711.63 393.31 L712.72 393.42 L713.82 393.54 L714.91 393.64 L716.00 393.75 L717.10 393.86 L718.19 393.97 L719.28 394.08 L720.38 394.18 L721.47 394.29 L722.56 394.40 L723.66 394.50 L724.75 394.61 L725.84 394.71 L726.94 394.81 L728.03 394.91 L729.12 395.02 L730.22 395.12 L731.31 395.22 L732.40 395.32 L733.49 395.41 L734.59 395.51 L735.68 395.61 L736.77 395.71 L737.87 395.80 L738.96 395.90 L740.05 395.99 L741.15 396.09 L742.24 396.18 L743.33 396.27 L744.43 396.36 L745.52 396.45 L746.61 396.54 L747.71 396.63 L748.80 396.73" stroke="#ff0000"/>
<path d="M531.25 459.08 L530.96 459.24 L530.66 459.40 L530.37 459.56 L530.08 459.71 L529.78 459.87 L529.49 460.03 L529.19 460.18 L528.90 460.33 L528.61 460.48 L528.31 460.63 L528.02 460.78 L527.73 460.93 L527.43 461.08 L527.14 461.22 L526.85 461.37 L526.55 461.51 L526.26 461.65 L525.97 461.79 L525.67 461.93 L525.38 462.07 L525.08 462.21 L524.79 462.35 L524.50 462.48 L524.20 462.62 L523.91 462.75 L523.62 462.88 L523.32 463.01 L523.03 463.14 L522.74 463.27 L522.44 463.40 L522.15 463.53 L521.86 463.65 L521.56 463.78 L521.27 463.90 L520.97 464.03 L520.68 464.15 L520.39 464.27 L520.09 464.39 L519.80 464.51" stroke="#ff0000" stroke-dasharray="1.9 3.94" stroke-dashoffset="-2"/>
<path d="M536.77 464.02 L537.77 463.42 L538.78 462.80 L539.78 462.17 L540.78 461.51 L541.79 460.83 L542.79 460.14 L543.80 459.42 L544.80 458.68 L545.81 457.92 L546.81 457.14 L547.81 456.35 L548.82 455.53 L549.82 454.69 L550.83 453.83 L551.83 452.93 L552.84 452.01 L553.84 451.07 L554.84 450.11 L555.85 449.13 L556.85 448.13 L557.86 447.12 L558.86 446.08 L559.87 445.04 L560.87 443.97 L561.87 442.91 L562.88 441.86 L563.88 440.79 L564.89 439.72 L565.89 438.64 L566.90 437.56 L567.90 436.47 L568.90 435.38 L569.91 434.28 L570.91 433.19 L571.92 432.10 L572.92 431.01 L573.93 429.92 L574.93 428.84 L575.93 427.76 L576.94 426.69 L577.94 425.63 L578.95 424.58 L579.95 423.55 L580.96 422.52 L581.96 421.51 L582.96 420.51 L583.97 419.53 L584.97 418.56 L585.98 417.61 L586.98 416.68 L587.99 415.76 L588.99 414.86 L589.99 413.99 L591.00 413.13 L592.00 412.29 L593.01 411.47 L594.01 410.67 L595.02 409.89 L596.02 409.13 L597.02 408.39 L598.03 407.67 L599.03 406.98 L600.04 406.30 L601.04 405.64 L602.05 405.00 L603.05 404.38 L604.05 403.78 L605.06 403.19 L606.06 402.63 L607.07 402.08 L608.07 401.55 L609.08 401.04 L610.08 400.54 L611.08 400.06 L612.09 399.60 L613.09 399.15 L614.10 398.71 L615.10 398.29 L616.11 397.89 L617.11 397.49 L618.11 397.11 L619.12 396.74 L620.12 396.39 L621.13 396.04 L622.13 395.71 L623.14 395.39 L624.14 395.07 L625.14 394.77 L626.15 394.48 L627.15 394.19 L628.16 393.92 L629.16 393.65 L630.17 393.39 L631.17 393.14 L632.17 392.90 L633.18 392.66 L634.18 392.43 L635.19 392.21 L636.19 391.99 L637.20 391.78 L638.20 391.57 L639.20 391.37 L640.21 391.18 L641.21 390.99 L642.22 390.80 L643.22 390.62 L644.23 390.44 L645.23 390.27 L646.23 390.10 L647.24 389.94 L648.24 389.77 L649.25 389.62 L650.25 389.46 L651.26 389.31 L652.26 389.16 L653.26 389.02 L654.27 388.87 L655.27 388.73 L656.28 388.59 L657.28 388.46 L658.29 388.33 L659.29 388.19 L660.30 388.07 L661.30 387.94 L662.30 387.81 L663.31 387.69 L664.31 387.57 L665.32 387.45 L666.32 387.33 L667.33 387.22 L668.33 387.10 L669.33 386.99 L670.34 386.88 L671.34 386.77 L672.35 386.66 L673.35 386.55 L674.36 386.45 L675.36 386.34 L676.36 386.24 L677.37 386.13 L678.37 386.03 L679.38 385.93 L680.38 385.83 L681.39 385.74 L682.39 385.64 L683.39 385.54 L684.40 385.45 L685.40 385.36 L686.41 385.26 L687.41 385.17 L688.42 385.08 L689.42 384.99 L690.42 384.90 L691.43 384.81 L692.43 384.73 L693.44 384.64 L694.44 384.55 L695.45 384.47 L696.45 384.39 L697.45 384.30 L698.46 384.22 L699.46 384.14 L700.47 384.06 L701.47 383.98 L702.48 383.91 L703.48 383.83 L704.48 383.75 L705.49 383.68 L706.49 383.60 L707.50 383.53 L708.50 383.46 L709.51 383.39 L710.51 383.32 L711.51 383.25 L712.52 383.18 L713.52 383.11 L714.53 383.04 L715.53 382.98 L716.54 382.91 L717.54 382.85 L718.54 382.79 L719.55 382.73 L720.55 382.66 L721.56 382.61 L722.56 382.55 L723.57 382.49 L724.57 382.43 L725.57 382.38 L726.58 382.32 L727.58 382.27 L728.59 382.22 L729.59 382.17 L730.60 382.12 L731.60 382.07 L732.60 382.02 L733.61 381.97 L734.61 381.93 L735.62 381.88 L736.62 381.84" stroke="#00ff00"/>
<path d="M536.77 464.02 L536.33 464.27 L535.90 464.52 L535.46 464.77 L535.03 465.01 L534.59 465.26 L534.16 465.49 L533.72 465.73 L533.29 465.96 L532.85 466.18 L532.42 466.41 L531.98 466.63 L531.55 466.84 L531.11 467.06 L530.68 467.27 L530.24 467.47 L529.81 467.68 L529.37 467.88 L528.94 468.07 L528.50 468.27 L528.07 468.46 L527.63 468.65 L527.20 468.83 L526.76 469.01 L526.33 469.19 L525.89 469.37 L525.46 469.54 L525.02 469.71 L524.59 469.88 L524.15 470.04 L523.72 470.20 L523.28 470.36 L522.85 470.52 L522.41 470.67 L521.98 470.82 L521.54 470.97 L521.11 471.11 L520.67 471.26 L520.24 471.40 L519.80 471.54" stroke="#00ff00" stroke-dasharray="1.9 3.94" stroke-dashoffset="-2"/>
<path d="M736.62 381.84 L736.83 381.83 L737.03 381.82 L737.24 381.81 L737.45 381.80 L737.65 381.80 L737.86 381.79 L738.07 381.78 L738.27 381.77 L738.48 381.76 L738.69 381.75 L738.89 381.75 L739.10 381.74 L739.30 381.73 L739.51 381.72 L739.72 381.71 L739.92 381.71 L740.13 381.70 L740.34 381.69 L740.54 381.68 L740.75 381.67 L740.96 381.67 L741.16 381.66 L741.37 381.65 L741.58 381.64 L741.78 381.64 L741.99 381.63 L742.19 381.62 L742.40 381.61 L742.61 381.61 L742.81 381.60 L743.02 381.59 L743.23 381.58 L743.43 381.58 L743.64 381.57 L743.85 381.56 L744.05 381.56 L744.26 381.55 L744.47 381.54 L744.67 381.54 L744.88 381.53 L745.08 381.52 L745.29 381.52 L745.50 381.51 L745.70 381.50 L745.91 381.50 L746.12 381.49 L746.32 381.48 L746.53 381.48 L746.74 381.47 L746.94 381.46 L747.15 381.45 L747.36 381.44 L747.56 381.43 L747.77 381.42 L747.97 381.40 L748.18 381.38 L748.39 381.37 L748.59 381.35 L748.80 381.33" stroke="#00ff00" stroke-dasharray="1.9 3.94" stroke-dashoffset="-2"/>
<path d="M531.25 457.98 L531.99 457.44 L532.73 456.89 L533.47 456.34 L534.21 455.79 L534.95 455.23 L535.69 454.66 L536.43 454.09 L537.17 453.52 L537.91 452.95 L538.65 452.37 L539.39 451.79 L540.13 451.21 L540.87 450.62 L541.61 450.03 L542.35 449.45 L543.09 448.86 L543.83 448.26 L544.57 447.67 L545.31 447.08 L546.05 446.49 L546.79 445.90 L547.53 445.31 L548.27 444.72 L549.01 444.13 L549.75 443.54 L550.49 442.95 L551.23 442.37 L551.97 441.82 L552.71 441.27 L553.45 440.72 L554.19 440.18 L554.93 439.64 L555.67 439.11 L556.41 438.58 L557.15 438.05 L557.89 437.53 L558.63 437.01 L559.37 436.50 L560.11 435.99 L560.85 435.49 L561.59 435.00 L562.33 434.51 L563.06 434.02 L563.80 433.55 L564.54 433.07 L565.28 432.61 L566.02 432.15 L566.76 431.69 L567.50 431.25 L568.24 430.81 L568.98 430.37 L569.72 429.95 L570.46 429.53 L571.20 429.11 L571.94 428.71 L572.68 428.31 L573.42 427.92 L574.16 427.53 L574.90 427.15 L575.64 426.78 L576.38 426.42 L577.12 426.06 L577.86 425.71 L578.60 425.37 L579.34 425.03 L580.08 424.70 L580.82 424.38 L581.56 424.07 L582.30 423.76 L583.04 423.46 L583.78 423.16 L584.52 422.88 L585.26 422.60 L586.00 422.33 L586.74 422.06 L587.48 421.80 L588.22 421.55 L588.96 421.30 L589.70 421.06 L590.44 420.83 L591.18 420.60 L591.92 420.38 L592.66 420.17 L593.40 419.96 L594.14 419.76 L594.88 419.57 L595.62 419.38 L596.36 419.20 L597.10 419.02 L597.84 418.85 L598.58 418.69 L599.32 418.53 L600.06 418.38 L600.80 418.23 L601.54 418.09 L602.28 417.95 L603.02 417.82 L603.76 417.69 L604.50 417.57 L605.24 417.46 L605.98 417.35 L606.72 417.24 L607.46 417.14 L608.20 417.05 L608.94 416.95 L609.68 416.87 L610.42 416.79 L611.16 416.71 L611.90 416.64 L612.64 416.57 L613.38 416.50 L614.12 416.44 L614.86 416.39 L615.60 416.34 L616.34 416.29 L617.08 416.24 L617.82 416.20 L618.56 416.17 L619.30 416.14 L620.04 416.11 L620.78 416.08 L621.52 416.06 L622.26 416.04 L623.00 416.03 L623.74 416.01 L624.48 416.01 L625.22 416.00 L625.95 416.00 L626.69 416.00 L627.43 416.00 L628.17 416.01 L628.91 416.02 L629.65 416.03 L630.39 416.05 L631.13 416.06 L631.87 416.08 L632.61 416.11 L633.35 416.13 L634.09 416.16 L634.83 416.19 L635.57 416.22 L636.31 416.26 L637.05 416.30 L637.79 416.34 L638.53 416.38 L639.27 416.42 L640.01 416.47 L640.75 416.52 L641.49 416.57 L642.23 416.62 L642.97 416.67 L643.71 416.73 L644.45 416.78 L645.19 416.84 L645.93 416.91 L646.67 416.97 L647.41 417.03 L648.15 417.10 L648.89 417.17 L649.63 417.24 L650.37 417.31 L651.11 417.38 L651.85 417.45 L652.59 417.53 L653.33 417.60 L654.07 417.68 L654.81 417.76 L655.55 417.84 L656.29 417.92 L657.03 418.01 L657.77 418.09 L658.51 418.18 L659.25 418.26 L659.99 418.35 L660.73 418.44 L661.47 418.53 L662.21 418.62 L662.95 418.71 L663.69 418.80 L664.43 418.90 L665.17 418.99 L665.91 419.09 L666.65 419.19 L667.39 419.28 L668.13 419.38 L668.87 419.48 L669.61 419.58 L670.35 419.68 L671.09 419.79 L671.83 419.89 L672.57 419.99 L673.31 420.10 L674.05 420.20 L674.79 420.31 L675.53 420.41 L676.27 420.52 L677.01 420.63 L677.75 420.74 L678.49 420.85" stroke="#0000ff"/>
<path d="M531.25 457.98 L530.96 458.19 L530.66 458.40 L530.37 458.60 L530.08 458.81 L529.78 459.01 L529.49 459.22 L529.19 459.42 L528.90 459.62 L528.61 459.82 L528.31 460.02 L528.02 460.22 L527.73 460.42 L527.43 460.62 L527.14 460.82 L526.85 461.01 L526.55 461.21 L526.26 461.40 L525.97 461.60 L525.67 461.79 L525.38 461.99 L525.08 462.18 L524.79 462.37 L524.50 462.56 L524.20 462.75 L523.91 462.94 L523.62 463.13 L523.32 463.32 L523.03 463.50 L522.74 463.69 L522.44 463.87 L522.15 464.05 L521.86 464.23 L521.56 464.41 L521.27 464.59 L520.97 464.77 L520.68 464.94 L520.39 465.12 L520.09 465.29 L519.80 465.47" stroke="#0000ff" stroke-dasharray="1.9 3.94" stroke-dashoffset="-2"/>
<path d="M678.49 420.85 L679.68 421.03 L680.87 421.20 L682.06 421.39 L683.25 421.57 L684.45 421.75 L685.64 421.94 L686.83 422.12 L688.02 422.31 L689.21 422.50 L690.40 422.69 L691.60 422.88 L692.79 423.07 L693.98 423.27 L695.17 423.46 L696.36 423.66 L697.55 423.86 L698.75 424.05 L699.94 424.25 L701.13 424.45 L702.32 424.65 L703.51 424.86 L704.71 425.06 L705.90 425.26 L707.09 425.47 L708.28 425.67 L709.47 425.88 L710.66 426.08 L711.86 426.29 L713.05 426.50 L714.24 426.71 L715.43 426.92 L716.62 427.13 L717.81 427.34 L719.01 427.55 L720.20 427.76 L721.39 427.98 L722.58 428.19 L723.77 428.40 L724.96 428.62 L726.16 428.83 L727.35 429.05 L728.54 429.26 L729.73 429.48 L730.92 429.70 L732.12 429.92 L733.31 430.13 L734.50 430.35 L735.69 430.57 L736.88 430.79 L738.07 431.01 L739.27 431.23 L740.46 431.45 L741.65 431.67 L742.84 431.90 L744.03 432.12 L745.22 432.34 L746.42 432.56 L747.61 432.79 L748.80 432.99" stroke="#0000ff" stroke-dasharray="1.9 3.94" stroke-dashoffset="-2"/>
</g>
<g stroke="#000" fill="none">
<rect x="519.8" y="355.6" width="229.0" height="123.8" stroke-width="1.6"/>
<path d="M519.80 479.40v-2.8 M519.80 355.60v2.8 M530.21 479.40v-1.5 M530.21 355.60v1.5 M540.62 479.40v-1.5 M540.62 355.60v1.5 M551.03 479.40v-1.5 M551.03 355.60v1.5 M561.44 479.40v-1.5 M561.44 355.60v1.5 M571.85 479.40v-2.8 M571.85 355.60v2.8 M582.25 479.40v-1.5 M582.25 355.60v1.5 M592.66 479.40v-1.5 M592.66 355.60v1.5 M603.07 479.40v-1.5 M603.07 355.60v1.5 M613.48 479.40v-1.5 M613.48 355.60v1.5 M623.89 479.40v-2.8 M623.89 355.60v2.8 M634.30 479.40v-1.5 M634.30 355.60v1.5 M644.71 479.40v-1.5 M644.71 355.60v1.5 M655.12 479.40v-1.5 M655.12 355.60v1.5 M665.53 479.40v-1.5 M665.53 355.60v1.5 M675.94 479.40v-2.8 M675.94 355.60v2.8 M686.35 479.40v-1.5 M686.35 355.60v1.5 M696.75 479.40v-1.5 M696.75 355.60v1.5 M707.16 479.40v-1.5 M707.16 355.60v1.5 M717.57 479.40v-1.5 M717.57 355.60v1.5 M727.98 479.40v-2.8 M727.98 355.60v2.8 M738.39 479.40v-1.5 M738.39 355.60v1.5 M748.80 479.40v-1.5 M748.80 355.60v1.5 M519.80 478.80h4.8 M748.80 478.80h-4.8 M519.80 474.73h2.4 M748.80 474.73h-2.4 M519.80 470.66h2.4 M748.80 470.66h-2.4 M519.80 466.59h2.4 M748.80 466.59h-2.4 M519.80 462.52h2.4 M748.80 462.52h-2.4 M519.80 458.45h4.8 M748.80 458.45h-4.8 M519.80 454.38h2.4 M748.80 454.38h-2.4 M519.80 450.31h2.4 M748.80 450.31h-2.4 M519.80 446.24h2.4 M748.80 446.24h-2.4 M519.80 442.17h2.4 M748.80 442.17h-2.4 M519.80 438.10h4.8 M748.80 438.10h-4.8 M519.80 434.03h2.4 M748.80 434.03h-2.4 M519.80 429.96h2.4 M748.80 429.96h-2.4 M519.80 425.89h2.4 M748.80 425.89h-2.4 M519.80 421.82h2.4 M748.80 421.82h-2.4 M519.80 417.75h4.8 M748.80 417.75h-4.8 M519.80 413.68h2.4 M748.80 413.68h-2.4 M519.80 409.61h2.4 M748.80 409.61h-2.4 M519.80 405.54h2.4 M748.80 405.54h-2.4 M519.80 401.47h2.4 M748.80 401.47h-2.4 M519.80 397.40h4.8 M748.80 397.40h-4.8 M519.80 393.33h2.4 M748.80 393.33h-2.4 M519.80 389.26h2.4 M748.80 389.26h-2.4 M519.80 385.19h2.4 M748.80 385.19h-2.4 M519.80 381.12h2.4 M748.80 381.12h-2.4 M519.80 377.05h4.8 M748.80 377.05h-4.8 M519.80 372.98h2.4 M748.80 372.98h-2.4 M519.80 368.91h2.4 M748.80 368.91h-2.4 M519.80 364.84h2.4 M748.80 364.84h-2.4 M519.80 360.77h2.4 M748.80 360.77h-2.4 M519.80 356.70h4.8 M748.80 356.70h-4.8" stroke-width="1.2"/>
</g>
<text transform="translate(481.26 382.95) scale(1.080 1)" font-size="14.8" letter-spacing="0.55">0.25</text>
<text transform="translate(481.26 403.30) scale(1.080 1)" font-size="14.8" letter-spacing="0.55">0.20</text>
<text transform="translate(481.26 423.65) scale(1.080 1)" font-size="14.8" letter-spacing="0.55">0.15</text>
<text transform="translate(481.26 444.00) scale(1.080 1)" font-size="14.8" letter-spacing="0.55">0.10</text>
<text transform="translate(481.26 464.35) scale(1.080 1)" font-size="14.8" letter-spacing="0.55">0.05</text>
<text transform="translate(481.26 366.50) scale(1.080 1)" font-size="14.8" letter-spacing="0.55">0.30</text>
<text transform="translate(481.26 480.10) scale(1.080 1)" font-size="14.8" letter-spacing="0.55">0.00</text>
<text transform="translate(503.20 502.80) scale(1.080 1)" font-size="14.8" letter-spacing="0.85">11.0</text>
<text transform="translate(555.25 502.80) scale(1.080 1)" font-size="14.8" letter-spacing="0.85">11.5</text>
<text transform="translate(607.29 502.80) scale(1.080 1)" font-size="14.8" letter-spacing="0.48">12.0</text>
<text transform="translate(659.34 502.80) scale(1.080 1)" font-size="14.8" letter-spacing="0.48">12.5</text>
<text transform="translate(711.38 502.80) scale(1.080 1)" font-size="14.8" letter-spacing="0.48">13.0</text>
<text x="572.39" y="346.60" font-size="19.0" textLength="20.08" lengthAdjust="spacingAndGlyphs">SF</text>
<text x="604.94" y="346.60" font-size="19.0" textLength="88.58" lengthAdjust="spacingAndGlyphs">efficiency</text>
<text x="590.92" y="521.60" font-size="14.6" textLength="22.26" lengthAdjust="spacingAndGlyphs">log</text>
<text x="620.55" y="521.60" font-size="14.2" textLength="11.94" lengthAdjust="spacingAndGlyphs">M</text>
<text x="632.70" y="523.70" font-size="7.4" textLength="5.51" lengthAdjust="spacingAndGlyphs" font-weight="bold">H</text>
<path d="M650.80 509.60H647.80V525.10H650.80" fill="none" stroke="#000" stroke-width="1.30" stroke-linejoin="round" stroke-linecap="round"/>
<text x="651.95" y="521.60" font-size="14.2" textLength="11.94" lengthAdjust="spacingAndGlyphs">M</text>
<circle cx="666.9" cy="521.0" r="2.2" fill="none" stroke="#000" stroke-width="1.1"/><circle cx="666.9" cy="521.0" r="0.7" fill="#000"/>
<path d="M671.40 509.60H674.40V525.10H671.40" fill="none" stroke="#000" stroke-width="1.30" stroke-linejoin="round" stroke-linecap="round"/>
<text x="467.80" y="449.00" font-size="14.8" textLength="11.44" lengthAdjust="spacingAndGlyphs" transform="rotate(-90 467.80 449.00)">M</text>
<text x="470.90" y="437.96" font-size="7.4" textLength="13.57" lengthAdjust="spacingAndGlyphs" transform="rotate(-90 470.90 437.96)" font-weight="bold">star</text>
<path d="M471.4 423.0L455.4 414.6" stroke="#000" stroke-width="1.3" fill="none" stroke-linecap="round"/>
<text x="467.80" y="413.97" font-size="15.0" textLength="5.03" lengthAdjust="spacingAndGlyphs" transform="rotate(-90 467.80 413.97)">f</text>
<text x="469.80" y="407.46" font-size="7.4" textLength="4.35" lengthAdjust="spacingAndGlyphs" transform="rotate(-90 469.80 407.46)" font-weight="bold">b</text>
<text x="467.80" y="403.35" font-size="14.8" textLength="11.94" lengthAdjust="spacingAndGlyphs" transform="rotate(-90 467.80 403.35)">M</text>
<text x="469.80" y="392.46" font-size="7.4" textLength="5.14" lengthAdjust="spacingAndGlyphs" transform="rotate(-90 469.80 392.46)" font-weight="bold">H</text>
</svg></body></html>
